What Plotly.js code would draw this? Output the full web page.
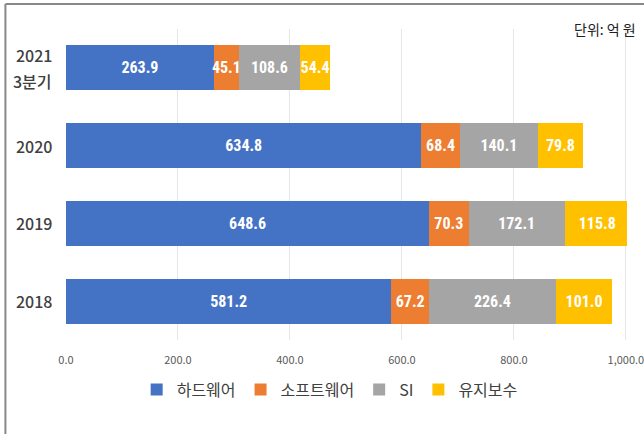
<!DOCTYPE html>
<html><head><meta charset="utf-8">
<script src="https://cdn.plot.ly/plotly-3.0.1.min.js"></script>
<style>html,body{margin:0;padding:0;background:#fff;}#chart{width:644px;height:434px;}</style>
</head><body><div id="chart"></div>
<script>
var categories = ['2018', '2019', '2020', '2021 3분기'];
var categoryLabelLines = [['2018'], ['2019'], ['2020'], ['2021', '3분기']];
var seriesNames = ['하드웨어', '소프트웨어', 'SI', '유지보수'];
var hardware = [581.2, 648.6, 634.8, 263.9];
var software = [67.2, 70.3, 68.4, 45.1];
var si = [226.4, 172.1, 140.1, 108.6];
var maintenance = [101.0, 115.8, 79.8, 54.4];
var tickVals = [0, 200, 400, 600, 800, 1000];
var tickText = ['0.0', '200.0', '400.0', '600.0', '800.0', '1,000.0'];
var colors = ['#4472C4', '#ED7D31', '#A5A5A5', '#FFC000'];
var allSeries = [hardware, software, si, maintenance];

var traces = allSeries.map(function(vals, i) {
  return {
    type: 'bar', orientation: 'h', name: seriesNames[i],
    y: categories, x: vals,
    marker: {color: colors[i]},
    text: vals.map(function(v){ return v.toFixed(1); }),
    textposition: 'inside', insidetextanchor: 'middle', constraintext: 'none', textangle: 0,
    textfont: {family: 'Roboto Condensed, Noto Sans CJK KR', size: 16, color: '#ffffff', weight: 'bold'},
    hoverinfo: 'none'
  };
});

var annotations = [{text: '단위: 억 원', xref: 'paper', yref: 'paper', x: 1.02, y: 1.0,
    xanchor: 'right', yanchor: 'middle', showarrow: false,
    font: {size: 14, color: '#202020'}}];
categories.forEach(function(c, i) {
  var lines = categoryLabelLines[i];
  lines.forEach(function(t, j) {
    annotations.push({text: t, xref: 'paper', yref: 'y', x: -0.022, y: i,
      xanchor: 'right', yanchor: 'middle', showarrow: false,
      yshift: (lines.length - 1) * 13 - j * 26,
      font: {size: 16, color: '#404040', weight: 500}});
  });
});

var layout = {
  width: 644, height: 434,
  margin: {l: 66, r: 17, t: 29, b: 94},
  barmode: 'stack', bargap: 0.42,
  paper_bgcolor: '#ffffff', plot_bgcolor: '#ffffff',
  font: {family: 'Noto Sans CJK KR', color: '#404040'},
  xaxis: {range: [0, 1002], tickvals: tickVals, ticktext: tickText, ticklabeloverflow: 'allow',
    showgrid: true, gridcolor: '#e6e6e6', gridwidth: 1, zeroline: false,
    showline: false, ticks: '', tickfont: {size: 11, color: '#595959'}, ticklabelstandoff: 12},
  yaxis: {type: 'category', categoryorder: 'array', categoryarray: categories,
    range: [-0.5, categories.length - 0.5], showgrid: false, zeroline: false,
    showline: false, ticks: '', showticklabels: false},
  showlegend: true,
  legend: {orientation: 'h', x: 0.47, xanchor: 'center', y: -0.105, yanchor: 'top',
    font: {size: 16, color: '#404040'}, itemwidth: 30, traceorder: 'normal'},
  annotations: annotations,
  shapes: [
    {type: 'line', xref: 'paper', yref: 'paper', x0: -0.108, x1: 1.05, y0: 1.08, y1: 1.08,
     line: {color: '#888888', width: 2}},
    {type: 'line', xref: 'paper', yref: 'paper', x0: -0.108, x1: -0.108, y0: 1.08, y1: -0.31,
     line: {color: '#888888', width: 2}}
  ]
};
Plotly.newPlot('chart', traces, layout, {displayModeBar: false, staticPlot: true});
</script></body></html>
